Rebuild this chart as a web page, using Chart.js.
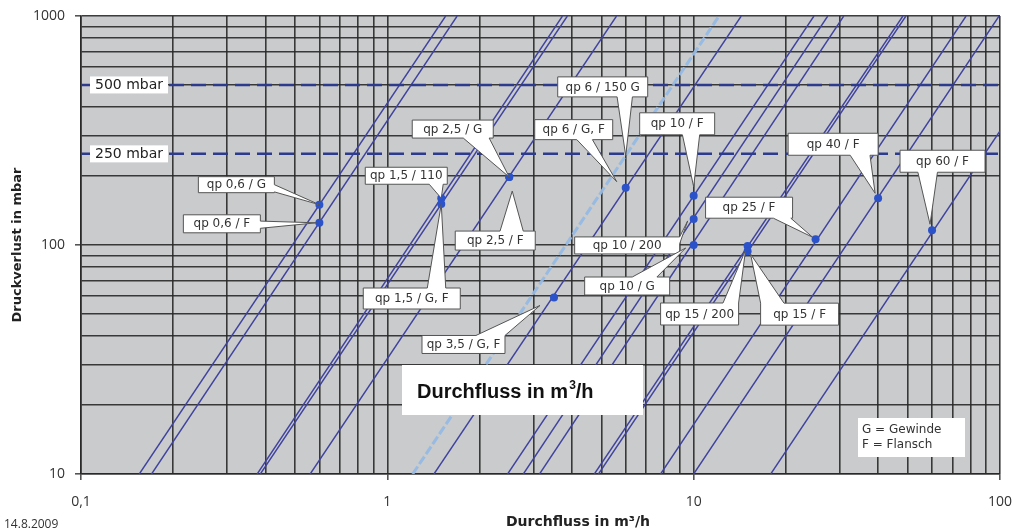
<!DOCTYPE html>
<html>
<head>
<meta charset="utf-8">
<script src="https://cdn.jsdelivr.net/npm/chart.js@4.4.1/dist/chart.umd.min.js"></script>
<style>
  html, body { margin: 0; padding: 0; background: #fff; }
</style>
</head>
<body>
<canvas id="myChart" width="1014" height="532"></canvas>
<script>
// axis range
const xMin = 0.1, xMax = 100;
const yMin = 10, yMax = 1000;

// pressure-loss curves (dp ~ Q^2), read where they enter / leave the plot
const curveNames = ["qp 0,6 / G", "qp 0,6 / F", "qp 1,5 / 110", "qp 1,5 / G, F", "qp 2,5", "qp 6 / 150 G",
  "qp 6 / G, F", "qp 10 / F", "qp 10 / 200", "qp 10 / G", "qp 15 / 200", "qp 15 / F", "qp 25 / F", "qp 40 / F", "qp 60 / F"];
const flowAt10 = [0.155, 0.17, 0.376, 0.385, 0.56, 1.21, 1.42, 2.47, 2.78, 3.14, 4.74, 4.89, 7.8, 10, 17.85];
const flowAtEnd = [1.55, 1.69, 3.73, 3.87, 5.6, 12.1, 14.3, 24.7, 27.4, 30.9, 48.2, 49.3, 77.5, 99.3, 100];
const lossAtEnd = [1000, 1000, 1000, 1000, 1000, 1000, 1000, 1000, 1000, 1000, 1000, 1000, 1000, 1000, 315];
const lightCurve = "qp 6 / 150 G";

// rated points
const pointNames = ["qp 0,6 / G", "qp 0,6 / F", "qp 1,5 / 110", "qp 1,5 / G, F", "qp 2,5 / G", "qp 2,5 / F",
  "qp 3,5 / G, F", "qp 6 / G, F", "qp 6 / 150 G", "qp 10 / F", "qp 10 / 200", "qp 10 / G",
  "qp 15 / 200", "qp 15 / F", "qp 25 / F", "qp 40 / F", "qp 60 / F"];
const pointFlow = [0.6, 0.6, 1.5, 1.5, 2.5, 2.5, 3.5, 6, 6, 10, 10, 10, 15, 15, 25, 40, 60];
const pointLoss = [150, 125, 160, 151, 198, 198, 59, 178, 245, 164, 130, 100, 99, 94, 106, 160, 116];
const hiddenMarkers = ["qp 6 / 150 G"];

// limit lines
const refLoss = [500, 250];
const refLabels = ["500 mbar", "250 mbar"];

const lineBlue = "#3f429e";
const lightBlue = "rgba(150,185,228,0.95)";
const gridColor = "rgba(40,40,40,0.9)";

// callout boxes: offset of box from its point [dx, dy, w, h], edge of pointer, pointer base
const calloutLayout = {
  "qp 0,6 / G":    { box: [-121, -28, 76, 16], edge: "right",  base: [0.5, 0.95] },
  "qp 0,6 / F":    { box: [-136, -8, 77, 18],  edge: "right",  base: [0.35, 0.75], tip: [-3, 0] },
  "qp 1,5 / 110":  { box: [-76, -31, 82, 17],  edge: "bottom", base: [0.78, 0.95] },
  "qp 1,5 / G, F": { box: [-78, 84, 97, 21],   edge: "top",    base: [0.66, 0.85] },
  "qp 2,5 / G":    { box: [-97, -57, 81, 18],  edge: "bottom", base: [0.63, 0.95] },
  "qp 2,5 / F":    { box: [-54, 54, 80, 19],   edge: "top",    base: [0.56, 0.85], tip: [3, 14] },
  "qp 3,5 / G, F": { box: [-132, 38, 83, 18],  edge: "top",    base: [0.65, 1.0],  tip: [-14, 8] },
  "qp 6 / G, F":   { box: [-91, -68, 78, 20],  edge: "bottom", base: [0.54, 0.74], tip: [-9, -6] },
  "qp 6 / 150 G":  { box: [-68, -79, 90, 20],  edge: "bottom", base: [0.66, 0.83] },
  "qp 10 / F":     { box: [-54, -83, 75, 22],  edge: "bottom", base: [0.57, 0.8],  tip: [0, -9] },
  "qp 10 / 200":   { box: [-119, 18, 105, 17], edge: "right",  base: [0.0, 0.4],  tip: [-6, 2] },
  "qp 10 / G":     { box: [-109, 32, 85, 18],  edge: "top",    base: [0.56, 0.85], tip: [-8, 3] },
  "qp 15 / 200":   { box: [-87, 57, 78, 22],   edge: "top",    base: [0.8, 1.0],  tip: [-2, 4] },
  "qp 15 / F":     { box: [13, 52, 78, 22],    edge: "top",    base: [0.0, 0.3],  tip: [3, 3] },
  "qp 25 / F":     { box: [-110, -42, 87, 21], edge: "bottom", base: [0.78, 0.98], tip: [-3, -2] },
  "qp 40 / F":     { box: [-90, -65, 90, 22],  edge: "bottom", base: [0.69, 0.91], tip: [-3, -5] },
  "qp 60 / F":     { box: [-32, -80, 85, 22],  edge: "bottom", base: [0.21, 0.44], tip: [-2, -6] }
};

function isDecade(v) {
  const l = Math.log10(v);
  return Math.abs(l - Math.round(l)) < 1e-6;
}

function logGrid(min, max) {
  const out = [];
  for (let e = Math.floor(Math.log10(min)); e <= Math.ceil(Math.log10(max)); e++) {
    for (let m = 1; m <= 9; m++) {
      const v = parseFloat((m * Math.pow(10, e)).toPrecision(6));
      if (v >= min * 0.999999 && v <= max * 1.000001) out.push(v);
    }
  }
  return out;
}

const curveDatasets = curveNames.map((name, i) => {
  const light = name === lightCurve;
  return {
    label: name,
    data: [{ x: flowAt10[i], y: yMin }, { x: flowAtEnd[i], y: lossAtEnd[i] }],
    showLine: true,
    borderColor: light ? lightBlue : lineBlue,
    borderWidth: light ? 3 : 1.4,
    borderDash: light ? [9, 3] : [],
    pointRadius: 0,
    order: 3
  };
});

const refDatasets = refLoss.map((v, i) => ({
  label: refLabels[i],
  data: [{ x: xMin, y: v }, { x: xMax, y: v }],
  showLine: true,
  borderColor: "#2d3b8e",
  borderWidth: 2.5,
  borderDash: [15, 7],
  pointRadius: 0,
  order: 2
}));

const pointDataset = {
  label: "qp",
  data: pointFlow.map((x, i) => ({ x: x, y: pointLoss[i] })),
  showLine: false,
  pointRadius: c => hiddenMarkers.includes(pointNames[c.dataIndex]) ? 0 : 4,
  pointBackgroundColor: "#2b52c9",
  pointBorderColor: "#2b52c9",
  pointBorderWidth: 0,
  order: 1
};

function calloutPath(ctx, L, T, W, H, c, tx, ty) {
  const R = L + W, B = T + H;
  ctx.beginPath();
  ctx.moveTo(L, T);
  if (c.edge === "top") {
    ctx.lineTo(L + W * c.base[0], T); ctx.lineTo(tx, ty); ctx.lineTo(L + W * c.base[1], T);
  }
  ctx.lineTo(R, T);
  if (c.edge === "right") {
    ctx.lineTo(R, T + H * c.base[0]); ctx.lineTo(tx, ty); ctx.lineTo(R, T + H * c.base[1]);
  }
  ctx.lineTo(R, B);
  if (c.edge === "bottom") {
    ctx.lineTo(L + W * c.base[1], B); ctx.lineTo(tx, ty); ctx.lineTo(L + W * c.base[0], B);
  }
  ctx.lineTo(L, B);
  if (c.edge === "left") {
    ctx.lineTo(L, T + H * c.base[1]); ctx.lineTo(tx, ty); ctx.lineTo(L, T + H * c.base[0]);
  }
  ctx.closePath();
}

const annotations = {
  id: "annotations",
  beforeDraw(chart) {
    const { ctx, chartArea: a } = chart;
    ctx.save();
    ctx.fillStyle = "#c9cbcc";
    ctx.fillRect(a.left, a.top, a.right - a.left, a.bottom - a.top);
    ctx.restore();
  },
  afterDatasetsDraw(chart) {
    const { ctx, chartArea: a, scales } = chart;
    const xs = scales.x, ys = scales.y;
    ctx.save();

    // limit line labels
    ctx.font = "14px 'DejaVu Sans'";
    ctx.textBaseline = "middle";
    ctx.textAlign = "center";
    refLoss.forEach((v, i) => {
      const py = ys.getPixelForValue(v);
      ctx.fillStyle = "#ffffff";
      ctx.fillRect(a.left + 9, py - 8.5, 78, 17);
      ctx.fillStyle = "#222";
      ctx.fillText(refLabels[i], a.left + 48, py + 0.5);
    });

    // callouts
    ctx.font = "12px 'DejaVu Sans'";
    pointNames.forEach((name, i) => {
      const c = calloutLayout[name];
      if (!c) return;
      const px = xs.getPixelForValue(pointFlow[i]);
      const py = ys.getPixelForValue(pointLoss[i]);
      const L = px + c.box[0], T = py + c.box[1], W = c.box[2], H = c.box[3];
      const tx = px + (c.tip ? c.tip[0] : 0), ty = py + (c.tip ? c.tip[1] : 0);
      calloutPath(ctx, L, T, W, H, c, tx, ty);
      ctx.fillStyle = "#ffffff";
      ctx.fill();
      ctx.strokeStyle = "#555";
      ctx.lineWidth = 1;
      ctx.stroke();
      ctx.fillStyle = "#333";
      ctx.fillText(name, L + W / 2, T + H / 2 + 0.5);
    });

    // flow label box inside the plot
    const bx = a.left + 321, by = a.top + 349;
    ctx.fillStyle = "#ffffff";
    ctx.fillRect(bx, by, 241, 50);
    ctx.fillStyle = "#111";
    ctx.textAlign = "left";
    ctx.textBaseline = "alphabetic";
    ctx.font = "bold 20px 'Liberation Sans'";
    let tx = bx + 15;
    const ty = by + 33;
    ctx.fillText("Durchfluss in m", tx, ty);
    tx += ctx.measureText("Durchfluss in m").width;
    ctx.font = "bold 12px 'Liberation Sans'";
    ctx.fillText("3", tx + 1, ty - 9);
    tx += ctx.measureText("3").width + 1;
    ctx.font = "bold 20px 'Liberation Sans'";
    ctx.fillText("/h", tx, ty);

    // legend box
    const lx = a.left + 777, ly = a.top + 402;
    ctx.fillStyle = "#ffffff";
    ctx.fillRect(lx, ly, 107, 39);
    ctx.fillStyle = "#333";
    ctx.font = "12px 'DejaVu Sans'";
    ctx.textBaseline = "middle";
    ctx.fillText("G = Gewinde", lx + 4, ly + 12);
    ctx.fillText("F = Flansch", lx + 4, ly + 27);

    // x axis title and date
    ctx.fillStyle = "#222";
    ctx.textAlign = "center";
    ctx.font = "bold 14px 'DejaVu Sans'";
    ctx.fillText("Durchfluss in m\u00b3/h", 578, 522);
    ctx.textAlign = "left";
    ctx.font = "12px 'Open Sans'";
    ctx.fillStyle = "#333";
    ctx.fillText("14.8.2009", 4, 525);
    ctx.restore();
  }
};

function axisOptions(min, max) {
  return {
    type: "logarithmic",
    min: min,
    max: max,
    afterBuildTicks: scale => {
      scale.ticks = logGrid(min, max).map(v => ({ value: v, major: isDecade(v) }));
    },
    ticks: {
      autoSkip: false,
      maxRotation: 0,
      padding: 10,
      color: "#333",
      font: { family: "Open Sans", size: 14 },
      callback: v => isDecade(v) ? String(v).replace(".", ",") : ""
    },
    grid: {
      color: gridColor,
      lineWidth: 1.6,
      drawTicks: true,
      tickLength: 6,
      tickColor: c => (c.tick && isDecade(c.tick.value)) ? "#555" : "rgba(0,0,0,0)"
    },
    border: { display: true, color: gridColor, width: 1.6 }
  };
}

// labels may hang over the plot edges, like in the original
function noEdgePadding(scale) {
  scale.paddingLeft = 0;
  scale.paddingRight = 0;
  scale.paddingTop = 0;
  scale.paddingBottom = 0;
}

const xAxis = axisOptions(xMin, xMax);
xAxis.ticks.padding = 14;
xAxis.afterFit = scale => { scale.height = 58; noEdgePadding(scale); };

const yAxis = axisOptions(yMin, yMax);
yAxis.title = {
  display: true,
  text: "Druckverlust in mbar",
  color: "#222",
  font: { family: "DejaVu Sans", size: 13, weight: "bold" },
  padding: { top: 10, bottom: 0 }
};
yAxis.afterFit = scale => { scale.width = 81; noEdgePadding(scale); };

const ctx = document.getElementById("myChart");

new Chart(ctx, {
  type: "scatter",
  data: {
    datasets: [pointDataset, ...refDatasets, ...curveDatasets]
  },
  options: {
    responsive: false,
    animation: false,
    layout: { padding: { top: 16, right: 14, left: 0, bottom: 0 } },
    scales: { x: xAxis, y: yAxis },
    plugins: {
      legend: { display: false },
      tooltip: { enabled: false }
    }
  },
  plugins: [annotations]
});
</script>
</body>
</html>
